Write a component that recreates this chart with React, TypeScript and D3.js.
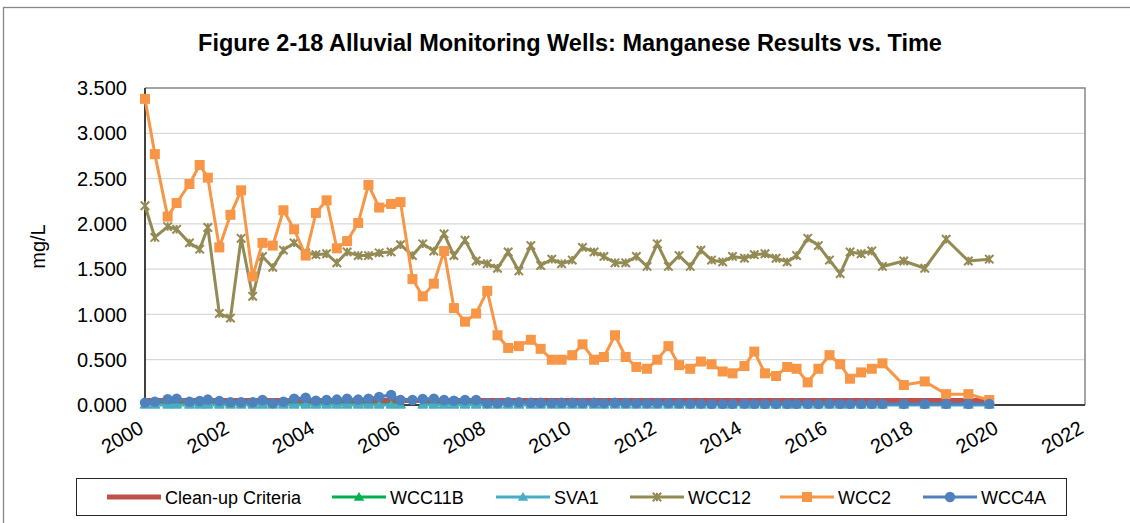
import React from 'react';
import * as d3 from 'd3';

const sampleYears = [
  2000.0, 2000.23, 2000.53, 2000.74, 2001.04, 2001.28, 2001.47, 2001.74, 2002.0, 2002.25,
  2002.52, 2002.75, 2002.99, 2003.24, 2003.49, 2003.76, 2004.0, 2004.25, 2004.49, 2004.73,
  2004.99, 2005.23, 2005.48, 2005.76, 2005.98, 2006.26, 2006.5, 2006.76, 2007.0, 2007.23,
  2007.49, 2007.75, 2008.01, 2008.25, 2008.5, 2008.75, 2009.03, 2009.26, 2009.52, 2009.75,
  2010.0, 2010.24, 2010.51, 2010.74, 2011.0, 2011.25, 2011.5, 2011.75, 2011.99, 2012.25,
  2012.5, 2012.76, 2013.01, 2013.26, 2013.52, 2013.75, 2014.03, 2014.26, 2014.51, 2014.77,
  2015.03, 2015.25, 2015.51, 2015.76, 2016.02, 2016.27, 2016.5, 2016.76, 2017.01, 2017.26,
  2017.76, 2018.25, 2018.75, 2019.27, 2019.76,
];

const wcc2 = [
  3.38, 2.77, 2.08, 2.23, 2.44, 2.65, 2.51, 1.74, 2.10, 2.37,
  1.42, 1.79, 1.76, 2.15, 1.94, 1.65, 2.12, 2.26, 1.73, 1.81,
  2.01, 2.43, 2.18, 2.22, 2.24, 1.39, 1.20, 1.34, 1.70, 1.07,
  0.92, 1.01, 1.26, 0.77, 0.63, 0.65, 0.72, 0.62, 0.50, 0.50,
  0.55, 0.67, 0.50, 0.53, 0.77, 0.53, 0.42, 0.40, 0.50, 0.65,
  0.44, 0.40, 0.48, 0.45, 0.37, 0.35, 0.43, 0.59, 0.35, 0.32,
  0.42, 0.40, 0.25, 0.40, 0.55, 0.45, 0.29, 0.36, 0.40, 0.46,
  0.22, 0.26, 0.12, 0.12, 0.055,
];

const wcc12 = [
  2.20, 1.85, 1.97, 1.94, 1.79, 1.72, 1.96, 1.01, 0.96, 1.84,
  1.20, 1.64, 1.52, 1.71, 1.79, 1.68, 1.66, 1.67, 1.57, 1.69,
  1.65, 1.65, 1.68, 1.69, 1.77, 1.65, 1.78, 1.70, 1.89, 1.65,
  1.82, 1.59, 1.56, 1.51, 1.69, 1.48, 1.76, 1.54, 1.61, 1.56,
  1.60, 1.74, 1.69, 1.64, 1.57, 1.57, 1.64, 1.53, 1.78, 1.53,
  1.65, 1.53, 1.71, 1.60, 1.58, 1.64, 1.62, 1.66, 1.67, 1.62,
  1.58, 1.65, 1.84, 1.76, 1.60, 1.45, 1.69, 1.67, 1.70, 1.53,
  1.59, 1.51, 1.83, 1.59, 1.61,
];

const wcc4a = [
  0.026, 0.037, 0.063, 0.07, 0.037, 0.044, 0.06, 0.044, 0.03, 0.03,
  0.03, 0.055, 0.02, 0.037, 0.07, 0.08, 0.048, 0.055, 0.06, 0.07,
  0.06, 0.07, 0.09, 0.11, 0.055, 0.055, 0.066, 0.07, 0.055, 0.048,
  0.055, 0.055, 0.02, 0.02, 0.03, 0.03, 0.025, 0.025, 0.022, 0.025,
  0.025, 0.022, 0.025, 0.02, 0.025, 0.022, 0.02, 0.02, 0.022, 0.02,
  0.018, 0.015, 0.015, 0.012, 0.012, 0.012, 0.015, 0.012, 0.012, 0.012,
  0.012, 0.012, 0.012, 0.012, 0.015, 0.012, 0.012, 0.012, 0.012, 0.012,
  0.012, 0.012, 0.012, 0.012, 0.012,
];

const wcc11b: (number | null)[] = sampleYears.map((_, i) => (i === 25 ? null : 0.008));
const sva1: (number | null)[] = sampleYears.map((_, i) => (i === 25 ? null : 0.0));
const cleanupCriteria = [0.05, 0.05];
const cleanupYears = [2000.0, 2019.76];

const yTicks = [0, 0.5, 1.0, 1.5, 2.0, 2.5, 3.0, 3.5];
const xTicks = [2000, 2002, 2004, 2006, 2008, 2010, 2012, 2014, 2016, 2018, 2020, 2022];

const title = 'Figure 2-18 Alluvial Monitoring Wells: Manganese Results vs. Time';
const yLabel = 'mg/L';

const C = {
  cleanup: '#C0504D',
  wcc11b: '#00B050',
  sva1: '#4BACC6',
  wcc12: '#948A54',
  wcc2: '#F79646',
  wcc4a: '#4F81BD',
};

const W = 1130;
const H = 523;
const plot = { left: 145, top: 88, right: 1085, bottom: 405 };
const FONT = '"Liberation Sans", Arial, sans-serif';

const x = d3.scaleLinear().domain([2000, 2022]).range([plot.left, plot.right]);
const y = d3.scaleLinear().domain([0, 3.5]).range([plot.bottom, plot.top]);

type Pt = [number, number | null];
const lineGen = d3
  .line<Pt>()
  .defined((d) => d[1] !== null)
  .x((d) => x(d[0]))
  .y((d) => y(d[1] as number));

const zip = (vals: (number | null)[], yrs = sampleYears): Pt[] => vals.map((v, i) => [yrs[i], v]);

const starPath = (s: number) => `M${-s},${-s}L${s},${s}M${-s},${s}L${s},${-s}M0,${-s}L0,${s}`;
const triPath = (s: number) => `M0,${-s}L${s * 1.05},${s * 0.75}L${-s * 1.05},${s * 0.75}Z`;

function Marker({ kind, cx, cy, color }: { kind: string; cx: number; cy: number; color: string }) {
  if (kind === 'square') return <rect x={cx - 5} y={cy - 5} width={10} height={10} fill={color} />;
  if (kind === 'circle') return <circle cx={cx} cy={cy} r={5.2} fill={color} />;
  if (kind === 'tri') return <path d={triPath(5)} transform={`translate(${cx},${cy})`} fill={color} />;
  if (kind === 'star')
    return <path d={starPath(4.2)} transform={`translate(${cx},${cy})`} stroke={color} strokeWidth={2} fill="none" />;
  return null;
}

function Series({ pts, color, width, marker }: { pts: Pt[]; color: string; width: number; marker?: string }) {
  return (
    <g>
      <path d={lineGen(pts) || ''} fill="none" stroke={color} strokeWidth={width} strokeLinejoin="round" />
      {marker &&
        pts
          .filter((p) => p[1] !== null)
          .map((p, i) => <Marker key={i} kind={marker} cx={x(p[0])} cy={y(p[1] as number)} color={color} />)}
    </g>
  );
}

const legendItems = [
  { label: 'Clean-up Criteria', color: C.cleanup, marker: '', x1: 107, width: 5 },
  { label: 'WCC11B', color: C.wcc11b, marker: 'tri', x1: 332, width: 3 },
  { label: 'SVA1', color: C.sva1, marker: 'tri', x1: 496, width: 3 },
  { label: 'WCC12', color: C.wcc12, marker: 'star', x1: 630, width: 3 },
  { label: 'WCC2', color: C.wcc2, marker: 'square', x1: 780, width: 3 },
  { label: 'WCC4A', color: C.wcc4a, marker: 'circle', x1: 923, width: 3 },
];

export default function App() {
  return (
    <svg
      width={W}
      height={H}
      viewBox={`0 0 ${W} ${H}`}
      style={{ position: 'absolute', left: 0, top: 0, background: '#fff' }}
      fontFamily={FONT}
    >
      <rect x={0} y={0} width={W} height={H} fill="#fff" />
      <rect x={3.5} y={7.5} width={W + 20} height={H + 20} fill="none" stroke="#878787" strokeWidth={1.3} />

      <text x={570} y={51} textAnchor="middle" fontSize={23.5} fontWeight="bold" fill="#000">
        {title}
      </text>

      {/* gridlines */}
      {yTicks
        .filter((t) => t > 0 && t < 3.5)
        .map((t) => (
          <line key={t} x1={plot.left} x2={plot.right} y1={y(t)} y2={y(t)} stroke="#D9D9D9" strokeWidth={1.3} />
        ))}

      {/* plot border top/right */}
      <path
        d={`M${plot.left},${plot.top}H${plot.right}V${plot.bottom}`}
        fill="none"
        stroke="#878787"
        strokeWidth={1.5}
      />

      {/* y tick labels */}
      {yTicks.map((t) => (
        <text key={t} x={127} y={y(t)} dy="0.36em" textAnchor="end" fontSize={20} fill="#000">
          {d3.format('.3f')(t)}
        </text>
      ))}

      {/* x tick labels */}
      {xTicks.map((t) => (
        <text
          key={t}
          transform={`translate(${x(t)},${plot.bottom + 27}) rotate(-30)`}
          textAnchor="end"
          fontSize={20}
          fill="#000"
        >
          {t}
        </text>
      ))}

      <text transform={`translate(45,${(plot.top + plot.bottom) / 2}) rotate(-90)`} textAnchor="middle" fontSize={20}>
        {yLabel}
      </text>

      {/* axes */}
      <line x1={plot.left} x2={plot.left} y1={plot.top} y2={plot.bottom} stroke="#404040" strokeWidth={2} />
      <line x1={plot.left} x2={plot.right} y1={plot.bottom} y2={plot.bottom} stroke="#404040" strokeWidth={2} />

      {/* series */}
      <Series pts={zip(cleanupCriteria, cleanupYears)} color={C.cleanup} width={5} />
      <Series pts={zip(wcc11b)} color={C.wcc11b} width={3} marker="tri" />
      <Series pts={zip(sva1)} color={C.sva1} width={3} marker="tri" />
      <Series pts={zip(wcc12)} color={C.wcc12} width={3} marker="star" />
      <Series pts={zip(wcc2)} color={C.wcc2} width={3} marker="square" />
      <Series pts={zip(wcc4a)} color={C.wcc4a} width={3} marker="circle" />

      {/* legend */}
      <rect x={76.5} y={478.5} width={990} height={37} fill="#fff" stroke="#262626" strokeWidth={1} />
      {legendItems.map((it) => (
        <g key={it.label}>
          <line x1={it.x1} x2={it.x1 + 54} y1={497} y2={497} stroke={it.color} strokeWidth={it.width} />
          {it.marker && <Marker kind={it.marker} cx={it.x1 + 27} cy={497} color={it.color} />}
          <text x={it.x1 + 58} y={503.5} fontSize={18} fill="#000">
            {it.label}
          </text>
        </g>
      ))}
    </svg>
  );
}
